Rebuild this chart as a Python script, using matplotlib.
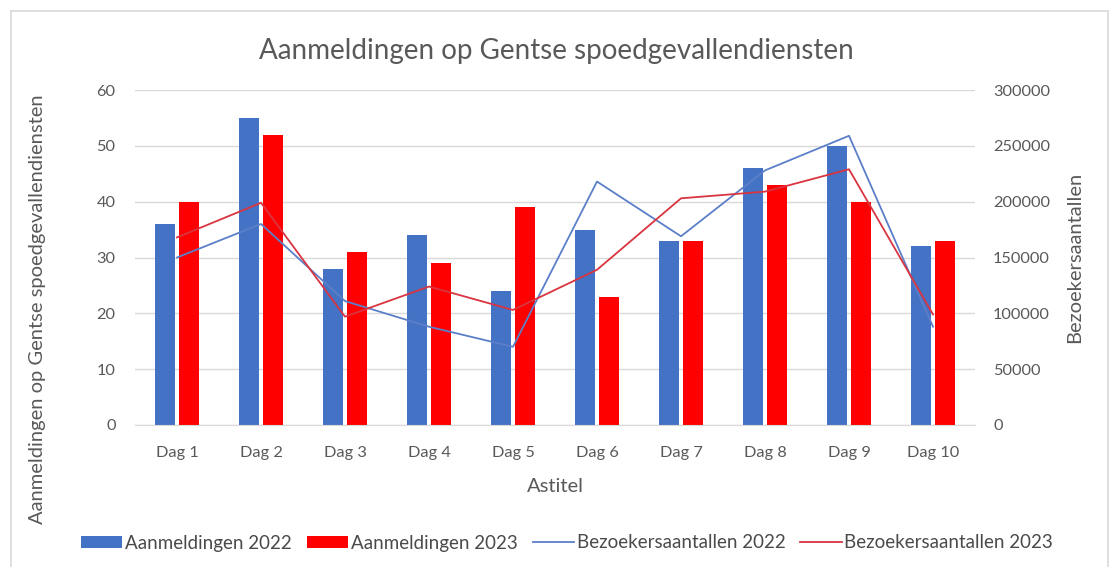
import numpy as np
import matplotlib.pyplot as plt
from matplotlib.lines import Line2D

plt.rcParams['font.family'] = ['Lato', 'DejaVu Sans']

days = ['Dag 1', 'Dag 2', 'Dag 3', 'Dag 4', 'Dag 5',
        'Dag 6', 'Dag 7', 'Dag 8', 'Dag 9', 'Dag 10']
aanmeldingen_2022 = [36, 55, 28, 34, 24, 35, 33, 46, 50, 32]
aanmeldingen_2023 = [40, 52, 31, 29, 39, 23, 33, 43, 40, 33]
bezoekers_2022 = [150000, 180000, 111000, 88000, 70000,
                  218000, 169000, 228000, 259000, 88000]
bezoekers_2023 = [168000, 199000, 97000, 124000, 103000,
                  139000, 203000, 209000, 229000, 99000]

txt = '#595959'
blue = '#4472C4'
red = '#FF0000'

fig = plt.figure(figsize=(11.12, 5.67), dpi=100)
ax = fig.add_axes([135 / 1112, 142 / 567, 840 / 1112, 335 / 567])
ax2 = ax.twinx()

x = np.arange(len(days))
w = 0.24
ax.bar(x - 0.143, aanmeldingen_2022, w, color=blue, zorder=2, label='Aanmeldingen 2022')
ax.bar(x + 0.143, aanmeldingen_2023, w, color=red, zorder=2, label='Aanmeldingen 2023')

ax2.plot(x, bezoekers_2022, color='#5B7FC8', lw=1.3, label='Bezoekersaantallen 2022')
ax2.plot(x, bezoekers_2023, color='#D9343F', lw=1.3, label='Bezoekersaantallen 2023')

ax.set_xlim(-0.5, len(days) - 0.5)
ax.set_ylim(0, 60)
ax.set_yticks(range(0, 61, 10))
ax2.set_ylim(0, 300000)
ax2.set_yticks(range(0, 300001, 50000))
ax.set_xticks(x)
ax.set_xticklabels(days)

ax.grid(axis='y', color='#D9D9D9', lw=1, zorder=0)
ax.set_axisbelow(True)
for a in (ax, ax2):
    for s in a.spines.values():
        s.set_visible(False)
    a.tick_params(length=0, labelsize=11.8, colors=txt)
ax.spines['bottom'].set_visible(True)
ax.spines['bottom'].set_color('#D9D9D9')
ax.tick_params(axis='y', pad=14)
ax2.tick_params(axis='y', pad=13)
ax.tick_params(axis='x', pad=15)

fig.text(0.5, 0.91, 'Aanmeldingen op Gentse spoedgevallendiensten',
         ha='center', va='center', fontsize=20, color=txt)
fig.text(555 / 1112, 1 - 487 / 567, 'Astitel', ha='center', va='center',
         fontsize=14.5, color=txt)
fig.text(38 / 1112, 1 - 309 / 567, 'Aanmeldingen op Gentse spoedgevallendiensten',
         rotation=90, ha='center', va='center', fontsize=14.5, color=txt)
fig.text(1075 / 1112, 1 - 257 / 567, 'Bezoekersaantallen',
         rotation=90, ha='center', va='center', fontsize=14.5, color=txt)

h1, l1 = ax.get_legend_handles_labels()
h2, l2 = ax2.get_legend_handles_labels()
fig.legend(h1 + h2, l1 + l2, loc='center', bbox_to_anchor=(0.510, 1 - 543 / 567),
           ncol=4, frameon=False, fontsize=13.5, labelcolor='#4a4a4a',
           handlelength=2.2, handleheight=0.6, handletextpad=0.15, columnspacing=0.8)

# chart border
bc = '#D9D9D9'
fig.add_artist(Line2D([11 / 1112, 1108 / 1112], [1 - 11 / 567] * 2, color=bc, lw=1.2))
fig.add_artist(Line2D([11 / 1112] * 2, [0, 1 - 11 / 567], color=bc, lw=1.2))
fig.add_artist(Line2D([1108 / 1112] * 2, [0, 1 - 11 / 567], color=bc, lw=1.2))

fig.savefig('out.png', dpi=100)
